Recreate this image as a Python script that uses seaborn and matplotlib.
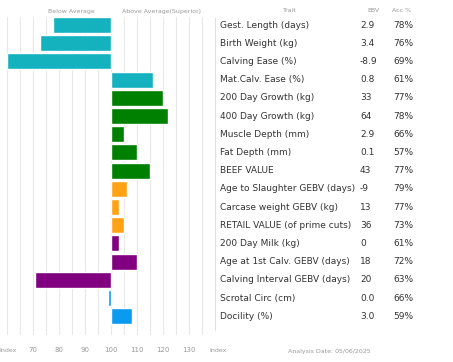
import matplotlib
matplotlib.use("Agg")
import matplotlib.pyplot as plt
from matplotlib.ticker import FuncFormatter, MultipleLocator
from matplotlib.transforms import blended_transform_factory
import seaborn as sns
import pandas as pd

traits = ["Gest. Length (days)", "Birth Weight (kg)", "Calving Ease (%)",
          "Mat.Calv. Ease (%)", "200 Day Growth (kg)", "400 Day Growth (kg)",
          "Muscle Depth (mm)", "Fat Depth (mm)", "BEEF VALUE",
          "Age to Slaughter GEBV (days)", "Carcase weight GEBV (kg)",
          "RETAIL VALUE (of prime cuts)", "200 Day Milk (kg)",
          "Age at 1st Calv. GEBV (days)", "Calving Interval GEBV (days)",
          "Scrotal Circ (cm)", "Docility (%)"]
ebv = ["2.9", "3.4", "-8.9", "0.8", "33", "64", "2.9", "0.1", "43", "-9",
       "13", "36", "0", "18", "20", "0.0", "3.0"]
acc = ["78%", "76%", "69%", "61%", "77%", "78%", "66%", "57%", "77%", "79%",
       "77%", "73%", "61%", "72%", "63%", "66%", "59%"]
index = [77.7, 72.7, 60, 116, 120, 122, 105, 110, 115, 106, 103, 105,
         103, 110, 70.8, 99, 108]
group = ["calving"] * 4 + ["growth"] * 5 + ["carcase"] * 3 + \
        ["maternal"] * 3 + ["other"] * 2

colors = {"calving": "#14b2bf", "growth": "#008000", "carcase": "#ffa216",
          "maternal": "#800080", "other": "#0a9bf0"}

df = pd.DataFrame({"trait": traits, "dev": [v - 100 for v in index],
                   "group": group})

sns.set_theme(style="white")
plt.rcParams["font.family"] = ["DejaVu Sans"]

W, H = 453, 362
fig = plt.figure(figsize=(W / 100, H / 100), dpi=100)
ax = fig.add_axes([0, (H - 335) / H, 210 / W, (335 - 17) / H])

sns.barplot(data=df, x="dev", y="trait", hue="group", palette=colors,
            dodge=False, legend=False, width=0.88, orient="h", ax=ax,
            saturation=1)

ax.set_xlim(-42.7, 38.1)
ax.set_ylim(17.03, -0.44)
ax.xaxis.set_major_locator(MultipleLocator(10))
ax.xaxis.set_minor_locator(MultipleLocator(5))
ax.xaxis.set_major_formatter(FuncFormatter(
    lambda v, p: "%d" % (v + 100) if -30 <= v <= 30 else ""))
ax.grid(True, which="both", axis="x", color="#e8e8e8", lw=0.8)
ax.set_axisbelow(True)
ax.set_yticks([])
ax.set_xlabel("")
ax.set_ylabel("")
ax.tick_params(axis="x", length=0, labelsize=5, colors="#999999", pad=9)
for s in ax.spines.values():
    s.set_visible(False)

# column headers
fig.text(71 / W, 1 - 11 / H, "Below Average", fontsize=4.5, color="#999999",
         ha="center", va="center")
fig.text(162 / W, 1 - 11 / H, "Above Average(Superior)", fontsize=4.5,
         color="#999999", ha="center", va="center")
fig.text(290 / W, 1 - 10 / H, "Trait", fontsize=4.5, color="#999999",
         ha="center", va="center")
fig.text(373 / W, 1 - 10 / H, "EBV", fontsize=4.5, color="#999999",
         ha="center", va="center")
fig.text(402 / W, 1 - 10 / H, "Acc %", fontsize=4.5, color="#999999",
         ha="center", va="center")

# table rows
tr = blended_transform_factory(fig.transFigure, ax.transData)
for i, t in enumerate(traits):
    ax.text(220 / W, i, t, transform=tr, fontsize=6.5, color="#333333",
            va="center", ha="left", clip_on=False)
    ax.text(360 / W, i, ebv[i], transform=tr, fontsize=6.5, color="#333333",
            va="center", ha="left", clip_on=False)
    ax.text(393 / W, i, acc[i], transform=tr, fontsize=6.5, color="#333333",
            va="center", ha="left", clip_on=False)

fig.add_artist(plt.Line2D([215 / W, 215 / W], [1 - 18 / H, 1 - 330 / H],
                          color="#e0e0e0", lw=0.8))

# footer
fig.text(8 / W, 1 - 350 / H, "Index", fontsize=4.5, color="#999999",
         ha="center", va="center")
fig.text(218 / W, 1 - 351 / H, "Index", fontsize=4.5, color="#999999",
         ha="center", va="center")
fig.text(329 / W, 1 - 352 / H, "Analysis Date: 05/06/2025", fontsize=4.5,
         color="#999999", ha="center", va="center")

fig.savefig("out.png", dpi=100)
